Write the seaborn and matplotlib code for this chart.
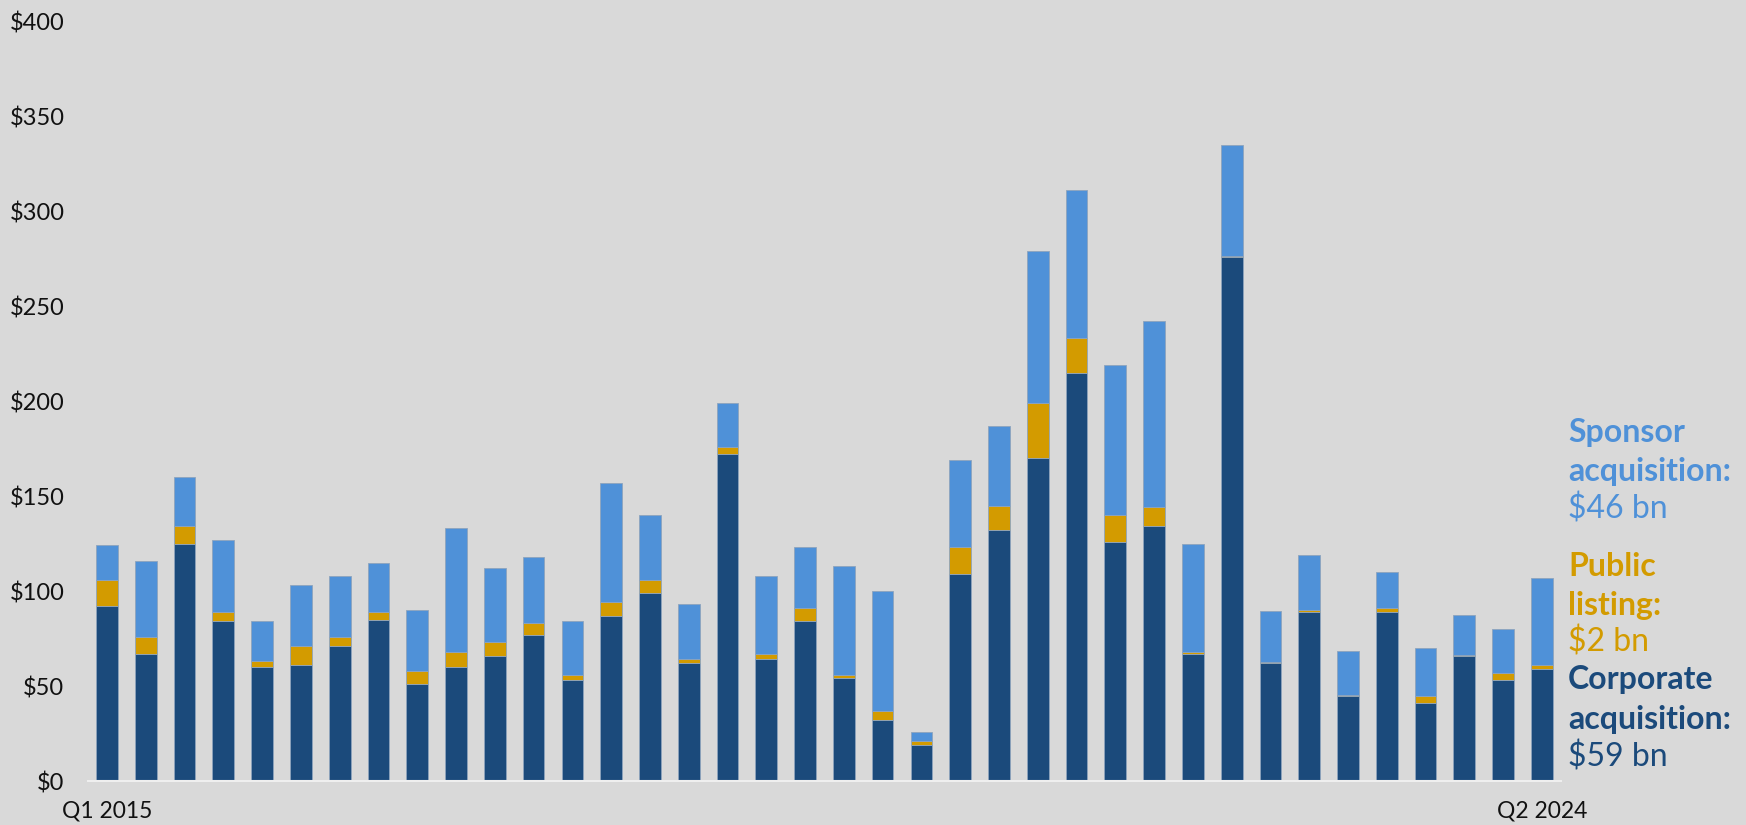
import numpy as np
import pandas as pd
import matplotlib
matplotlib.use("Agg")
import matplotlib.pyplot as plt
import seaborn as sns

quarters = [f"Q{q} {y}" for y in range(2015, 2025) for q in range(1, 5)][:38]
corporate = [92, 67, 125, 84, 60, 61, 71, 85, 51, 60, 66, 77, 53, 87, 99, 62, 172, 64, 84, 54,
             32, 19, 109, 132, 170, 215, 126, 134, 67, 276, 62, 89, 45, 89, 41, 66, 53, 59]
public = [14, 9, 9, 5, 3, 10, 5, 4, 7, 8, 7, 6, 3, 7, 7, 2, 4, 3, 7, 2,
          5, 2, 14, 13, 29, 18, 14, 10, 1, 0.5, 0.5, 1, 0.5, 2, 4, 0.3, 4, 2]
sponsor = [18, 40, 26, 38, 21, 32, 32, 26, 32, 65, 39, 35, 28, 63, 34, 29, 23, 41, 32, 57,
           63, 5, 46, 42, 80, 78, 79, 98, 57, 58, 27, 29, 23, 19, 25, 21, 23, 46]
yticks = [0, 50, 100, 150, 200, 250, 300, 350, 400]
xtick_labels = ["Q1 2015", "Q2 2024"]

C_CORP = "#1b4a7b"
C_PUB = "#d39b00"
C_SPON = "#4f91d8"
BG = "#d9d9d9"

df = pd.DataFrame({"quarter": quarters, "corporate": corporate,
                   "public": public, "sponsor": sponsor})
df["base_spon"] = df["corporate"] + df["public"]

sns.set_theme(style="white")
plt.rcParams["font.family"] = ["Lato", "DejaVu Sans"]

fig = plt.figure(figsize=(17.46, 8.25), dpi=100, facecolor=BG)
ax = fig.add_axes([0.0504, 0.0533, 0.8436, 0.9212])
ax.set_facecolor(BG)

common = dict(width=0.56, edgecolor="#8ea4bd", linewidth=0.6, saturation=1, ax=ax)
sns.barplot(data=df, x="quarter", y="corporate", color=C_CORP, **common)
sns.barplot(data=df, x="quarter", y="public", color=C_PUB, bottom=df["corporate"].values, **common)
sns.barplot(data=df, x="quarter", y="sponsor", color=C_SPON, bottom=df["base_spon"].values, **common)

ax.set_xlim(-0.49, 37.49)
ax.set_ylim(0, 400)
ax.set_yticks(yticks)
ax.set_yticklabels([f"${v}" for v in yticks], fontsize=17, color="#111111")
ax.set_xticks([0, 37])
ax.set_xticklabels(xtick_labels, fontsize=16.5, color="#111111")
ax.tick_params(axis="both", length=0)
ax.tick_params(axis="y", pad=17)
ax.tick_params(axis="x", pad=14)
ax.set_xlabel("")
ax.set_ylabel("")
for s in ["top", "right", "left"]:
    ax.spines[s].set_visible(False)
ax.spines["bottom"].set_color("#efefef")
ax.spines["bottom"].set_linewidth(1.5)
ax.grid(False)

# Right-hand labels
fs = 23
x0 = 1568 / 1746
def lbl(y_px, text, color, weight):
    fig.text(x0, 1 - y_px / 825, text, color=color, fontsize=fs, fontweight=weight,
             ha="left", va="center")

lbl(432, "Sponsor", C_SPON, "bold")
lbl(471, "acquisition:", C_SPON, "bold")
lbl(509, "$46 bn", C_SPON, "normal")
lbl(566, "Public", C_PUB, "bold")
lbl(605, "listing:", C_PUB, "bold")
lbl(642, "$2 bn", C_PUB, "normal")
lbl(680, "Corporate", C_CORP, "bold")
lbl(719, "acquisition:", C_CORP, "bold")
lbl(757, "$59 bn", C_CORP, "normal")

fig.savefig("out.png", dpi=100, facecolor=BG)
